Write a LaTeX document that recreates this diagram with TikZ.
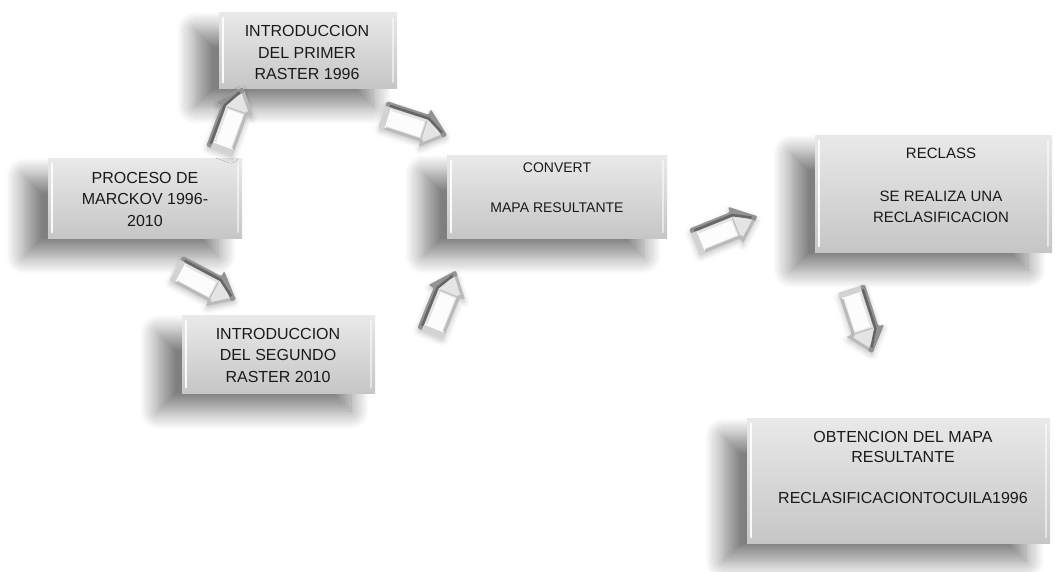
\documentclass[tikz,border=0pt]{standalone}
\usepackage{fontspec}
\setmainfont{Liberation Sans}
\usetikzlibrary{shadows.blur}

\definecolor{boxtop}{HTML}{E9E9E9}
\definecolor{boxbot}{HTML}{C6C6C6}
\definecolor{inktext}{HTML}{1A1A1A}
\definecolor{arrowbase}{HTML}{E4E4E4}
\definecolor{arrowside}{HTML}{BABABA}
\definecolor{arrowdark}{HTML}{929292}
\definecolor{arrowdeep}{HTML}{666666}
\definecolor{arrowcap}{HTML}{D2D2D2}

\newcommand\stagefont{\fontsize{16}{21.5}\selectfont}

\tikzset{
  stage/.style={rectangle, inner sep=0pt, draw=none,
    top color=boxtop, bottom color=boxbot,
    blur shadow={shadow xshift=-24pt, shadow yshift=-18pt,
      shadow blur radius=18pt, shadow opacity=50, shadow blur steps=18}},
  caption/.style={align=center, text=inktext, inner sep=0pt},
  pics/bevarrow/.style={code={
    % body and head silhouette with a soft shadow
    \fill[arrowbase, rounded corners=2pt,
      blur shadow={shadow xshift=0pt, shadow yshift=-3pt,
        shadow blur radius=5pt, shadow opacity=22}]
      (-34pt,-14pt) -- (10pt,-14pt) -- (10pt,-20pt) -- (34pt,0pt)
      -- (10pt,20pt) -- (10pt,14pt) -- (-34pt,14pt) -- cycle;
    \begin{scope}
      \clip[rounded corners=2pt]
        (-34pt,-14pt) -- (10pt,-14pt) -- (10pt,-20pt) -- (34pt,0pt)
        -- (10pt,20pt) -- (10pt,14pt) -- (-34pt,14pt) -- cycle;
      % lit front face
      \fill[white, opacity=.9] (-27pt,-10pt) rectangle (8pt,6pt);
      % bevel on the lower flank
      \draw[arrowside, line width=6pt, line join=round]
        (-34pt,-14pt) -- (10pt,-14pt) -- (10pt,-20pt) -- (34pt,0pt);
      % dark bevel along the upper flank up to the tip
      \draw[arrowdark, line width=10pt, line join=round]
        (-34pt,14pt) -- (10pt,14pt) -- (10pt,20pt) -- (34pt,0pt);
      \draw[arrowdeep, line width=2.5pt, line join=round]
        (-30pt,10.5pt) -- (11pt,10.5pt) -- (28pt,1pt);
      % head base and tail cap
      \draw[arrowside, line width=1pt] (10pt,-12pt) -- (10pt,8pt);
      \fill[arrowcap] (-34pt,-14pt) rectangle (-28pt,9pt);
      \draw[white, line width=1pt] (-27.5pt,-12pt) -- (-27.5pt,8pt);
    \end{scope}
  }}
}

\begin{document}
\begin{tikzpicture}[x=1pt, y=-1pt]
  \useasboundingbox (0,0) rectangle (1055,571);

  % process boxes
  \node[stage, minimum width=194pt, minimum height=80pt] (markov) at (145,198) {};
  \node[stage, minimum width=178pt, minimum height=76pt] (raster1) at (308,50) {};
  \node[stage, minimum width=193pt, minimum height=78pt] (raster2) at (278.5,354) {};
  \node[stage, minimum width=220pt, minimum height=83pt] (convert) at (557,196.5) {};
  \node[stage, minimum width=237pt, minimum height=117pt] (reclass) at (933.5,193.5) {};
  \node[stage, minimum width=303pt, minimum height=125pt] (result) at (898.5,480.5) {};

  % bevelled edges of the boxes
  \foreach \n in {markov,raster1,raster2,convert,reclass,result} {
    \draw[white, line width=2.5pt, opacity=.9, line cap=round]
      ([xshift=4pt,yshift=-6pt]\n.north west) -- ([xshift=4pt,yshift=6pt]\n.south west);
    \draw[white, line width=2pt, opacity=.55, line cap=round]
      ([xshift=-4pt,yshift=-6pt]\n.north east) -- ([xshift=-4pt,yshift=6pt]\n.south east);
  }

  % box captions
  \node[caption, font=\stagefont] (tmarkov) at (145,199) {PROCESO DE\\MARCKOV 1996-\\2010};
  \node[caption, font=\stagefont] (traster1) at (307,52.5) {INTRODUCCION\\DEL PRIMER\\RASTER 1996};
  \node[caption, font=\stagefont] (traster2) at (278,355) {INTRODUCCION\\DEL SEGUNDO\\RASTER 2010};
  \node[caption, font=\fontsize{14}{20}\selectfont] (tconvert) at (557,188) {CONVERT\\~\\MAPA RESULTANTE};
  \node[caption, font=\fontsize{15}{21.5}\selectfont] (treclass) at (941,185.5) {RECLASS\\~\\SE REALIZA UNA\\RECLASIFICACION};
  \node[caption, font=\fontsize{16}{20.5}\selectfont] (tresult) at (903,467.5) {OBTENCION DEL MAPA\\RESULTANTE\\~\\RECLASIFICACIONTOCUILA1996};

  % bevelled block arrows between the stages
  \pic[rotate=70]  (arr1) at (231,119) {bevarrow};
  \pic[rotate=-18] (arr2) at (415,125) {bevarrow};
  \pic[rotate=-28] (arr3) at (206,284) {bevarrow};
  \pic[rotate=68]  (arr4) at (443,302) {bevarrow};
  \pic[rotate=22]  (arr5) at (726,229) {bevarrow};
  \pic[rotate=-72] (arr6) at (862,321) {bevarrow};
\end{tikzpicture}
\end{document}
